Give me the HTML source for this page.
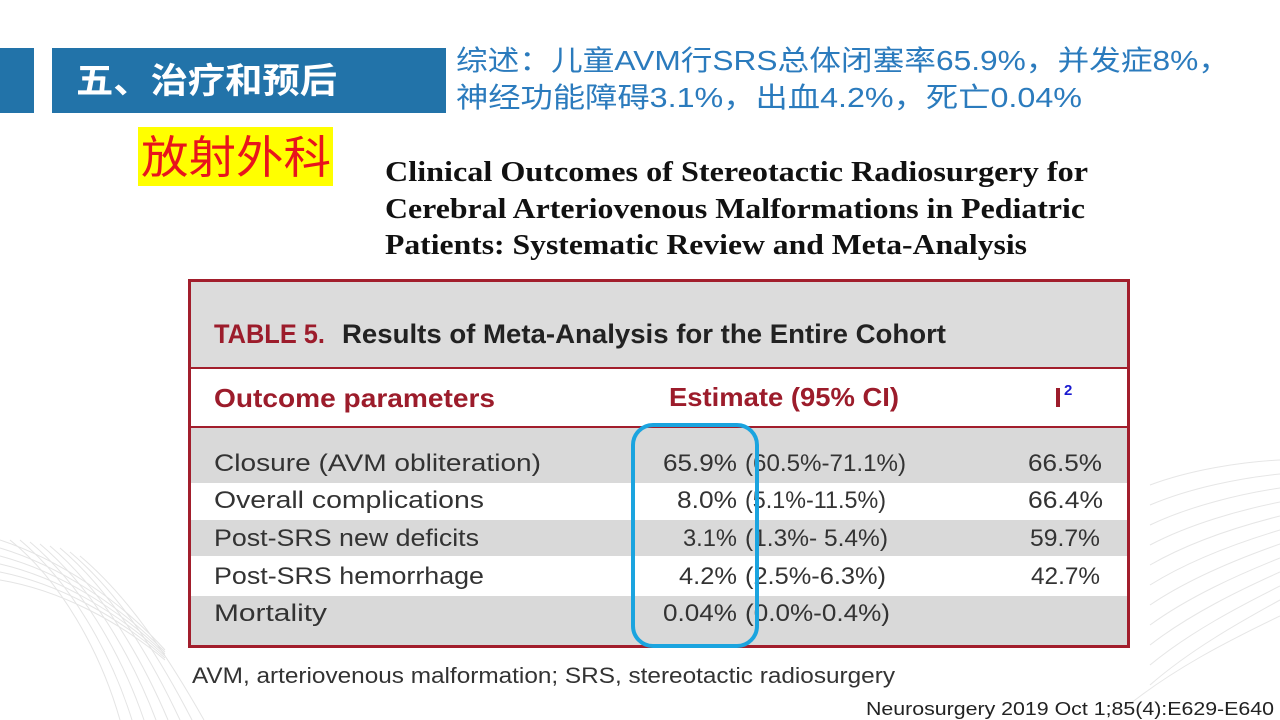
<!DOCTYPE html>
<html>
<head>
<meta charset="utf-8">
<style>
  html,body{margin:0;padding:0;background:#fff;}
  body{width:1280px;height:720px;overflow:hidden;}
  svg{display:block;}
</style>
</head>
<body>
<svg width="1280" height="720" viewBox="0 0 1280 720" xmlns="http://www.w3.org/2000/svg">
  <rect x="0" y="0" width="1280" height="720" fill="#ffffff"/>

  <!-- decorative faint curves bottom-left -->
  <g fill="none" stroke="#e4e4e4" stroke-width="1">
    <path d="M0,540 C60,560 120,600 165,650"/>
    <path d="M0,548 C60,566 120,606 165,652"/>
    <path d="M0,556 C60,572 120,610 165,654"/>
    <path d="M0,564 C60,578 120,614 165,656"/>
    <path d="M0,572 C60,584 120,618 165,658"/>
    <path d="M0,580 C60,590 120,622 165,660"/>
    <path d="M10,540 C60,580 100,650 120,720"/>
    <path d="M20,540 C70,582 110,650 132,720"/>
    <path d="M30,542 C80,584 120,650 144,720"/>
    <path d="M40,544 C90,586 130,652 156,720"/>
    <path d="M50,546 C100,588 140,654 168,720"/>
    <path d="M60,548 C110,590 150,656 180,720"/>
    <path d="M70,552 C120,594 160,658 192,720"/>
    <path d="M80,556 C130,598 170,660 204,720"/>
  </g>
  <!-- decorative faint curves right -->
  <g fill="none" stroke="#e6e6e6" stroke-width="1">
    <path d="M1150,485 C1190,470 1240,462 1280,460"/>
    <path d="M1150,505 C1190,488 1240,478 1280,474"/>
    <path d="M1150,525 C1190,506 1240,494 1280,488"/>
    <path d="M1150,545 C1190,524 1240,510 1280,502"/>
    <path d="M1150,565 C1190,542 1240,526 1280,516"/>
    <path d="M1150,585 C1190,560 1240,542 1280,530"/>
    <path d="M1150,605 C1190,578 1240,558 1280,544"/>
    <path d="M1150,625 C1190,596 1240,574 1280,558"/>
    <path d="M1150,645 C1190,614 1240,590 1280,572"/>
    <path d="M1150,665 C1190,632 1240,606 1280,586"/>
    <path d="M1150,685 C1190,650 1240,622 1280,600"/>
    <path d="M1120,712 C1170,670 1230,640 1280,616"/>
  </g>

  <!-- header band -->
  <rect x="0" y="48" width="34" height="65" fill="#2273a9"/>
  <rect x="52" y="48" width="394" height="65" fill="#2273a9"/>
  <text x="76" y="93" fill="#ffffff" font-family="'Liberation Sans','Noto Sans CJK SC',sans-serif" font-weight="bold" font-size="35" textLength="261" lengthAdjust="spacingAndGlyphs">五、治疗和预后</text>

  <!-- yellow label -->
  <rect x="138" y="127" width="195" height="59" fill="#ffff00"/>
  <text x="141" y="173" fill="#e8141c" font-family="'Liberation Sans','Noto Sans CJK SC',sans-serif" font-size="45" textLength="190" lengthAdjust="spacingAndGlyphs">放射外科</text>

  <!-- summary -->
  <g fill="#2b7bbd" font-family="'Liberation Sans','Noto Sans CJK SC',sans-serif" font-size="28">
    <text x="456" y="70" textLength="774" lengthAdjust="spacingAndGlyphs">综述：儿童AVM行SRS总体闭塞率65.9%，并发症8%，</text>
    <text x="456" y="107" textLength="626" lengthAdjust="spacingAndGlyphs">神经功能障碍3.1%，出血4.2%，死亡0.04%</text>
  </g>

  <!-- paper title -->
  <g fill="#111" font-family="'Liberation Serif',serif" font-weight="bold" font-size="29">
    <text x="385" y="181" textLength="703" lengthAdjust="spacingAndGlyphs">Clinical Outcomes of Stereotactic Radiosurgery for</text>
    <text x="385" y="218" textLength="700" lengthAdjust="spacingAndGlyphs">Cerebral Arteriovenous Malformations in Pediatric</text>
    <text x="385" y="254" textLength="642" lengthAdjust="spacingAndGlyphs">Patients: Systematic Review and Meta-Analysis</text>
  </g>

  <!-- table -->
  <rect x="189" y="280" width="940" height="88" fill="#dcdcdc"/>
  <rect x="189" y="368" width="940" height="59" fill="#ffffff"/>
  <rect x="189" y="427" width="940" height="56" fill="#d9d9d9"/>
  <rect x="189" y="483" width="940" height="37" fill="#ffffff"/>
  <rect x="189" y="520" width="940" height="36" fill="#d9d9d9"/>
  <rect x="189" y="556" width="940" height="40" fill="#ffffff"/>
  <rect x="189" y="596" width="940" height="50" fill="#d9d9d9"/>
  <line x1="189" y1="368" x2="1129" y2="368" stroke="#a21e2c" stroke-width="2"/>
  <line x1="189" y1="427" x2="1129" y2="427" stroke="#a21e2c" stroke-width="2"/>
  <rect x="189.5" y="280.5" width="939" height="366" fill="none" stroke="#a21e2c" stroke-width="3"/>

  <g font-family="'Liberation Sans',sans-serif" font-weight="bold" font-size="27">
    <text x="214" y="343" fill="#9c1c2b" textLength="111" lengthAdjust="spacingAndGlyphs">TABLE 5.</text>
    <text x="342" y="343" fill="#222" textLength="604" lengthAdjust="spacingAndGlyphs">Results of Meta-Analysis for the Entire Cohort</text>
  </g>
  <g font-family="'Liberation Sans',sans-serif" font-weight="bold" font-size="26" fill="#9c1c2b">
    <text x="214" y="407" textLength="281" lengthAdjust="spacingAndGlyphs">Outcome parameters</text>
    <text x="669" y="406" textLength="230" lengthAdjust="spacingAndGlyphs">Estimate (95% CI)</text>
    <rect x="1056" y="388" width="4" height="19" fill="#9c1c2b"/>
    <text x="1064" y="395" fill="#1a1ad0" font-size="15">2</text>
  </g>

  <g font-family="'Liberation Sans',sans-serif" font-size="24" fill="#333">
    <text x="214" y="471" textLength="327" lengthAdjust="spacingAndGlyphs">Closure (AVM obliteration)</text>
    <text x="214" y="508" textLength="270" lengthAdjust="spacingAndGlyphs">Overall complications</text>
    <text x="214" y="546" textLength="265" lengthAdjust="spacingAndGlyphs">Post-SRS new deficits</text>
    <text x="214" y="584" textLength="270" lengthAdjust="spacingAndGlyphs">Post-SRS hemorrhage</text>
    <text x="214" y="621" textLength="113" lengthAdjust="spacingAndGlyphs">Mortality</text>

    <text x="663" y="471" textLength="74" lengthAdjust="spacingAndGlyphs">65.9%</text>
    <text x="677" y="508" textLength="60" lengthAdjust="spacingAndGlyphs">8.0%</text>
    <text x="683" y="546" textLength="54" lengthAdjust="spacingAndGlyphs">3.1%</text>
    <text x="679" y="584" textLength="58" lengthAdjust="spacingAndGlyphs">4.2%</text>
    <text x="663" y="621" textLength="74" lengthAdjust="spacingAndGlyphs">0.04%</text>

    <text x="745" y="471" textLength="161" lengthAdjust="spacingAndGlyphs">(60.5%-71.1%)</text>
    <text x="745" y="508" textLength="141" lengthAdjust="spacingAndGlyphs">(5.1%-11.5%)</text>
    <text x="745" y="546" textLength="143" lengthAdjust="spacingAndGlyphs">(1.3%- 5.4%)</text>
    <text x="745" y="584" textLength="141" lengthAdjust="spacingAndGlyphs">(2.5%-6.3%)</text>
    <text x="745" y="621" textLength="145" lengthAdjust="spacingAndGlyphs">(0.0%-0.4%)</text>

    <text x="1028" y="471" textLength="74" lengthAdjust="spacingAndGlyphs">66.5%</text>
    <text x="1028" y="508" textLength="75" lengthAdjust="spacingAndGlyphs">66.4%</text>
    <text x="1030" y="546" textLength="70" lengthAdjust="spacingAndGlyphs">59.7%</text>
    <text x="1031" y="584" textLength="69" lengthAdjust="spacingAndGlyphs">42.7%</text>
  </g>

  <!-- blue highlight -->
  <rect x="633" y="425" width="124" height="221" rx="20" ry="20" fill="none" stroke="#1ba4df" stroke-width="4"/>

  <!-- footnote -->
  <text x="192" y="683" font-family="'Liberation Sans',sans-serif" font-size="22" fill="#333" textLength="703" lengthAdjust="spacingAndGlyphs">AVM, arteriovenous malformation; SRS, stereotactic radiosurgery</text>

  <!-- citation -->
  <text x="866" y="715" font-family="'Liberation Sans',sans-serif" font-size="18" fill="#222" textLength="408" lengthAdjust="spacingAndGlyphs">Neurosurgery 2019 Oct 1;85(4):E629-E640</text>
</svg>
</body>
</html>
